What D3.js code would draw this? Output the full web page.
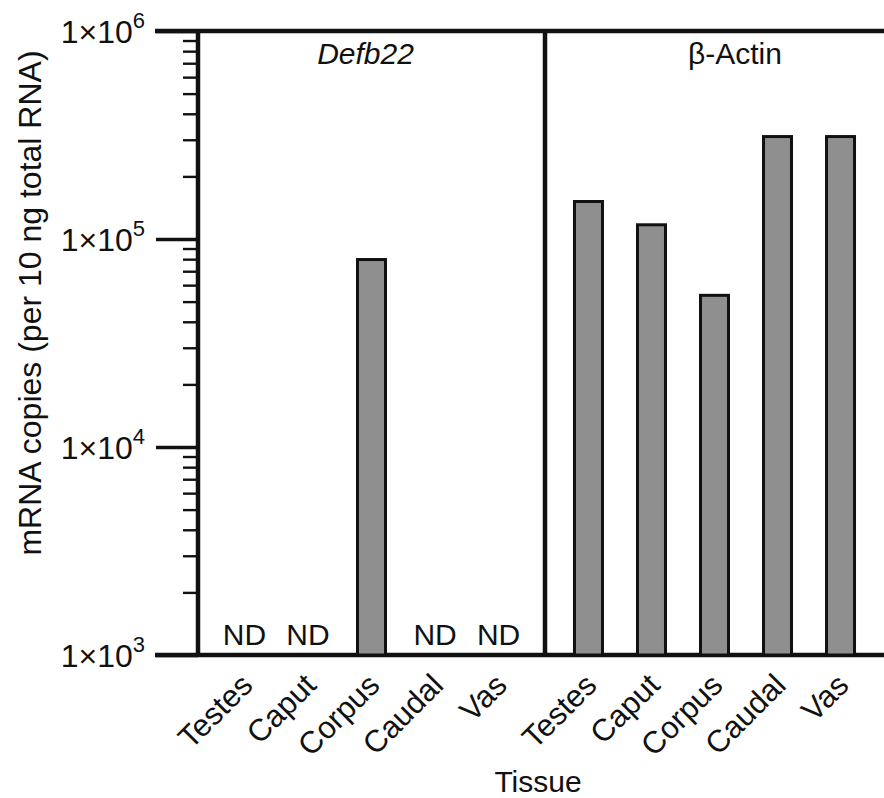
<!DOCTYPE html>
<html>
<head>
<meta charset="utf-8">
<script src="https://cdn.jsdelivr.net/npm/d3@7"></script>
<style>
  body { margin: 0; background: #fff; }
  svg text { font-family: "Liberation Sans", Arial, Helvetica, sans-serif; fill: #111; }
</style>
</head>
<body>
<div id="chart"></div>
<script>
// tissue categories, same for both panels
var tissues = ["Testes", "Caput", "Corpus", "Caudal", "Vas"];
// mRNA copies per 10 ng total RNA (null = not detected)
var defb22Values = [null, null, 81000, null, null];
var actinValues = [154000, 119000, 54500, 316000, 316000];
var panelTitles = ["Defb22", "\u03b2-Actin"];
var majorTicks = [1e3, 1e4, 1e5, 1e6];
var tickExponents = ["3", "4", "5", "6"];

(function () {
var W = 884, H = 798;
var plotLeft = 198, plotRight = 884, plotTop = 31, plotBottom = 655, divider = 545;

var svg = d3.select("#chart").append("svg")
    .attr("width", W)
    .attr("height", H);

var y = d3.scaleLog()
    .domain([1e3, 1e6])
    .range([plotBottom, plotTop]);

var x1 = d3.scalePoint().domain(tissues).range([plotLeft, divider]).padding(0.73);
var x2 = d3.scalePoint().domain(tissues).range([divider, plotRight]).padding(0.69);

// minor ticks
var minorTicks = [];
[1e3, 1e4, 1e5].forEach(function (d) {
    for (var k = 2; k <= 9; k++) minorTicks.push(d * k);
});

var yMinor = svg.append("g")
    .attr("transform", "translate(" + plotLeft + ",0)")
    .call(d3.axisLeft(y).tickValues(minorTicks).tickSize(15).tickFormat(""));
yMinor.select(".domain").remove();
yMinor.selectAll("line").attr("stroke", "#111").attr("stroke-width", 2.4);

var yMajor = svg.append("g")
    .attr("transform", "translate(" + plotLeft + ",0)")
    .call(d3.axisLeft(y).tickValues(majorTicks).tickSize(42).tickFormat(""));
yMajor.select(".domain").remove();
yMajor.selectAll("line").attr("stroke", "#111").attr("stroke-width", 3.5);

// major tick labels 1x10^n
majorTicks.forEach(function (d, i) {
    var t = svg.append("text")
        .attr("x", 145)
        .attr("y", y(d) + 12)
        .attr("text-anchor", "end")
        .style("font-size", "32px");
    t.append("tspan").text("1\u00d710");
    t.append("tspan").attr("dy", -15).style("font-size", "22px").text(tickExponents[i]);
});

// frame lines
svg.append("line").attr("x1", 155).attr("x2", plotRight).attr("y1", plotTop).attr("y2", plotTop)
    .attr("stroke", "#111").attr("stroke-width", 4.5);
svg.append("line").attr("x1", 155).attr("x2", plotRight).attr("y1", plotBottom).attr("y2", plotBottom)
    .attr("stroke", "#111").attr("stroke-width", 4.5);
svg.append("line").attr("x1", plotLeft).attr("x2", plotLeft).attr("y1", plotTop).attr("y2", plotBottom)
    .attr("stroke", "#111").attr("stroke-width", 4.5);
svg.append("line").attr("x1", divider).attr("x2", divider).attr("y1", plotTop).attr("y2", plotBottom)
    .attr("stroke", "#111").attr("stroke-width", 4.5);

// bars
var barW = 28;
function drawPanel(xs, values) {
    var data = tissues.map(function (t, i) { return {t: t, v: values[i]}; });
    svg.append("g").selectAll("rect")
        .data(data.filter(function (d) { return d.v != null; }))
        .enter()
        .append("rect")
        .attr("x", function (d) { return xs(d.t) - barW / 2; })
        .attr("y", function (d) { return y(d.v) + 1.5; })
        .attr("width", barW)
        .attr("height", function (d) { return y(1e3) - y(d.v) - 1.5; })
        .attr("fill", "#8f8f8f")
        .attr("stroke", "#111")
        .attr("stroke-width", 3);

    svg.append("g").selectAll("text")
        .data(data.filter(function (d) { return d.v == null; }))
        .enter()
        .append("text")
        .attr("x", function (d) { return xs(d.t); })
        .attr("y", 645)
        .attr("text-anchor", "middle")
        .style("font-size", "30px")
        .text("ND");

    svg.append("g").selectAll("text")
        .data(tissues)
        .enter()
        .append("text")
        .attr("transform", function (d) { return "translate(" + (xs(d) + 10) + ",687) rotate(-45)"; })
        .attr("text-anchor", "end")
        .style("font-size", "31px")
        .text(function (d) { return d; });
}
drawPanel(x1, defb22Values);
drawPanel(x2, actinValues);

// panel titles
svg.append("text")
    .attr("x", (plotLeft + divider) / 2 - 6)
    .attr("y", 64)
    .attr("text-anchor", "middle")
    .style("font-size", "30px")
    .style("font-style", "italic")
    .text(panelTitles[0]);
svg.append("text")
    .attr("x", 735)
    .attr("y", 64)
    .attr("text-anchor", "middle")
    .style("font-size", "30px")
    .text(panelTitles[1]);

// axis titles
svg.append("text")
    .attr("transform", "translate(41,303) rotate(-90)")
    .attr("text-anchor", "middle")
    .style("font-size", "32px")
    .text("mRNA copies (per 10 ng total RNA)");
svg.append("text")
    .attr("x", 538)
    .attr("y", 792)
    .attr("text-anchor", "middle")
    .style("font-size", "30px")
    .text("Tissue");
})();
</script>
</body>
</html>
